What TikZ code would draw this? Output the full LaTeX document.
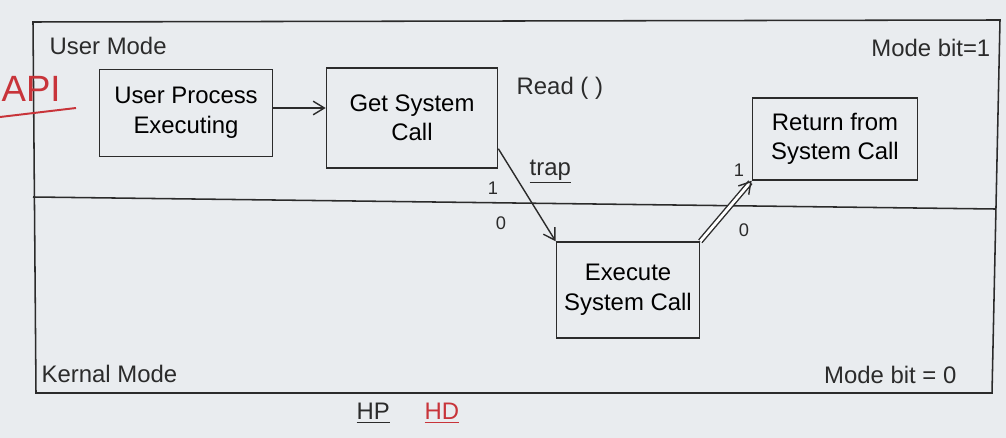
\documentclass[tikz,border=0pt]{standalone}
\usepackage{fontspec}
\setmainfont{Liberation Sans}
\usetikzlibrary{positioning, arrows.meta, calc}
\definecolor{BoardB}{HTML}{E9ECEF}
\definecolor{InkA}{HTML}{2B2B2B}
\definecolor{RedA}{HTML}{C8343A}
\tikzset{
  box/.style={draw=InkA, line width=1pt, align=center, font=\fontsize{17}{21}\selectfont, inner sep=4pt},
  lbl/.style={font=\fontsize{17}{20}\selectfont, text=InkA, inner sep=1pt},
  bit/.style={font=\fontsize{13}{15}\selectfont, text=InkA, inner sep=1pt},
  arr/.style={-{Straight Barb[length=2.8mm, width=3.4mm]}, line width=1pt, draw=InkA},
  frame/.style={draw=InkA, line width=1.1pt}
}

\begin{document}
\begin{tikzpicture}[x=0.025cm, y=-0.025cm]
  \fill[BoardB] (0,0) rectangle (1006,438);
  \useasboundingbox (0,0) rectangle (1006,438);

  % board frame and mode divider
  \draw[frame] (33,22) -- (1000,20) -- (992,393) -- (36,393) -- cycle;
  \draw[frame] (33,197) -- (995,209);

  \node[lbl, anchor=west] (um) at (48,46) {User Mode};
  \node[lbl, anchor=east] (mb1) at (992,48) {Mode bit=1};
  \node[lbl, anchor=west] (km) at (40,374) {Kernal Mode};
  \node[lbl, anchor=east] (mb0) at (958,375) {Mode bit = 0};

  \node[lbl, text=RedA, font=\fontsize{26}{28}\selectfont, anchor=west] (api) at (0,89) {API};
  \draw[RedA, line width=1.4pt] (0,117) -- (76,108);

  % flow boxes
  \node[box, minimum width=4.33cm, minimum height=2.18cm] (proc) at (186,113) {User Process\\Executing};
  \node[box, minimum width=4.28cm, minimum height=2.5cm] (get) at (412,118) {Get System\\Call};
  \node[box, minimum width=3.58cm, minimum height=2.4cm] (exec) at (628,290) {Execute\\System Call};
  \node[box, minimum width=4.13cm, minimum height=2.05cm] (ret) at (835,139) {Return from\\System Call};

  \node[lbl, anchor=west] (read) at (515,88) {Read ( )};
  \node[lbl, anchor=west] (trap) at (528,172) {\underline{trap}};

  \draw[arr] ($(proc.east)+(0,-5)$) -- ($(proc.east -| get.west)+(0,-5)$);
  \draw[arr] ($(get.south east)+(0,-20)$) -- (exec.north west);
  \draw[arr, double, double distance=2pt] (exec.north east) -- (ret.south west);

  \node[bit] (one1) at (493,188) {1};
  \node[bit] (zero1) at (501,223) {0};
  \node[bit] (one2) at (739,170) {1};
  \node[bit] (zero2) at (744,230) {0};

  \node[lbl, anchor=west] (hp) at (355,413) {\underline{HP}};
  \node[lbl, anchor=west, text=RedA] (hd) at (423,413) {\underline{HD}};
\end{tikzpicture}
\end{document}
